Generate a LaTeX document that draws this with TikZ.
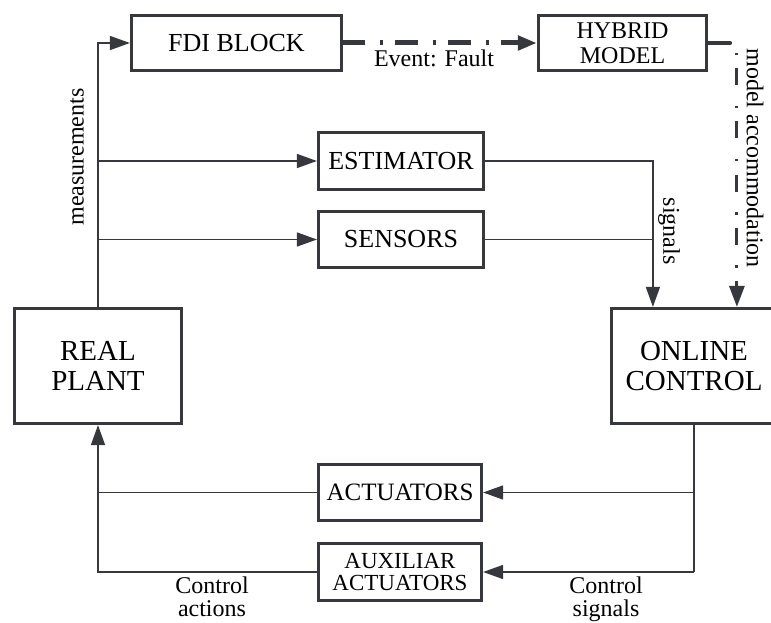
\documentclass[tikz,border=0pt]{standalone}
\usepackage{fontspec}
\setmainfont{Liberation Serif}
\usetikzlibrary{arrows.meta,calc}
\definecolor{ln}{RGB}{55,55,62}
\begin{document}
\begin{tikzpicture}[x=1pt,y=-1pt,
  box/.style={draw=ln, line width=3.2pt, inner sep=0pt, align=center, text=black},
  bigtxt/.style={font=\fontsize{26}{27}\selectfont},
  conn/.style={draw=ln, line width=1.5pt},
  arr/.style={-{Triangle[length=20pt,width=14pt]}},
  lbl/.style={font=\fontsize{24}{22.5}\selectfont, align=center, inner sep=0pt, text=black},
  ddh/.style={draw=ln, line width=5pt, dash pattern=on 23pt off 14.5pt on 3pt off 12.5pt, dash phase=1pt},
  ddv/.style={draw=ln, line width=3pt, dash pattern=on 2.5pt off 13pt on 17pt off 20.5pt, dash phase=43pt},
  thickln/.style={draw=ln, line width=4.5pt, line cap=round}
]
\clip (0,0) rectangle (771,623);

% boxes
\node[box, bigtxt, minimum width=210, minimum height=55] (fdi) at (236.5,43) {FDI BLOCK};
\node[box, font=\fontsize{24}{25}\selectfont, minimum width=168, minimum height=55] (hyb) at (622.5,43) {HYBRID\\MODEL};
\node[box, bigtxt, minimum width=165, minimum height=57] (est) at (401,161) {ESTIMATOR};
\node[box, bigtxt, minimum width=165, minimum height=56] (sens) at (401,239.5) {SENSORS};
\node[box, font=\fontsize{29}{30}\selectfont, minimum width=167, minimum height=115] (plant) at (98,366) {REAL\\PLANT};
\node[box, font=\fontsize{29}{30}\selectfont, minimum width=165, minimum height=115] (online) at (694,366) {ONLINE\\CONTROL};
\node[box, font=\fontsize{25}{26}\selectfont, minimum width=163, minimum height=56] (act) at (400,492.5) {ACTUATORS};
\node[box, font=\fontsize{23}{22}\selectfont, minimum width=163, minimum height=57] (aux) at (400,572) {AUXILIAR\\ACTUATORS};

% helper coordinates
\coordinate (ctop1) at ([xshift=43pt]online.north west);
\coordinate (ctop2) at ([xshift=127pt]online.north west);
\coordinate (mc) at (hyb.east -| ctop2);
\coordinate (mcend) at ([xshift=-7pt]mc);
\coordinate (cb) at (online.south |- aux.east);

% measurements
\draw[conn, arr] (plant.north) |- (fdi.west);
\draw[conn, arr] (plant.north |- est.west) -- (est.west);
\draw[conn, arr] (plant.north |- sens.west) -- (sens.west);

% signals to online control
\draw[conn, arr] (est.east) -| (ctop1);
\draw[conn] (sens.east) -- (sens.east -| ctop1);

% event fault
\draw[ddh, -{Triangle[length=19pt,width=14pt]}] (fdi.east) -- (hyb.west);

% model accommodation
\draw[thickln] (hyb.east) -- (mcend);
\draw[ddv, -{Triangle[length=21pt,width=15pt]}] (mc) -- (ctop2);

% control signals
\draw[conn] (online.south) -- (cb);
\draw[conn, arr] (online.south |- act.east) -- (act.east);
\draw[conn, arr] (cb) -- (aux.east);

% control actions
\draw[conn] (act.west) -- (act.west -| plant.south);
\draw[conn, arr] (aux.west) -| (plant.south);

% labels
\node[lbl, rotate=90] (lmeas) at (77,157) {measurements};
\node[lbl, anchor=base] (lev) at (434,67) {Event: Fault};
\node[lbl, rotate=-90] (lsig) at (669,231) {signals};
\node[lbl, rotate=-90] (lmod) at (755,158) {model accommodation};
\node[lbl, anchor=north] (lca) at (212,577) {Control\\actions};
\node[lbl, anchor=north] (lcs) at (606,577) {Control\\signals};
\end{tikzpicture}
\end{document}
